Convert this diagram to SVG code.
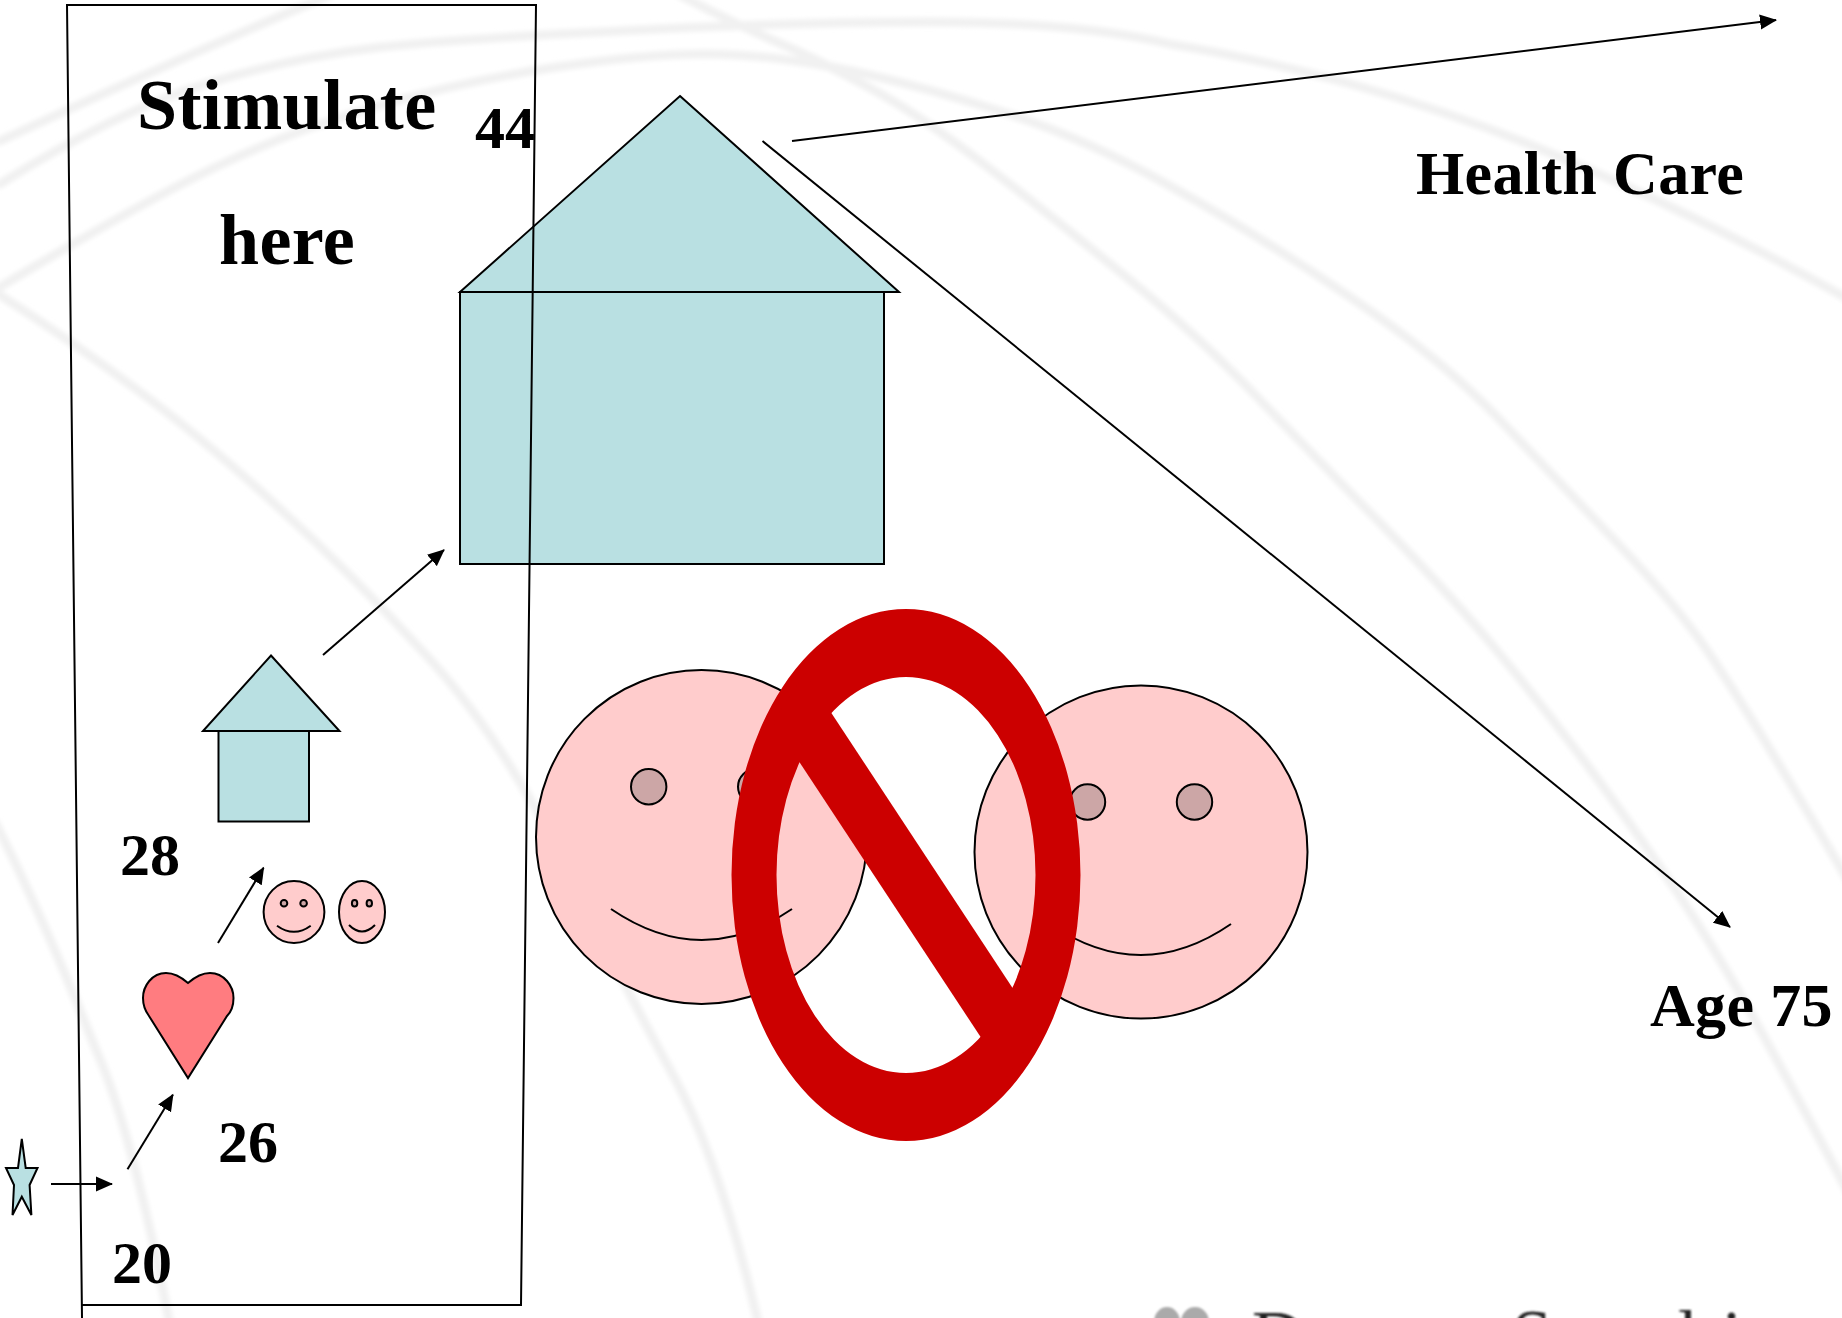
<svg xmlns="http://www.w3.org/2000/svg" width="1842" height="1318" viewBox="0 0 1842 1318">
<style>
.band{fill:none;stroke:#f1f1f1;stroke-width:9;stroke-linecap:round}
.o{stroke:#000;stroke-width:2}
.teal{fill:#b9e0e2}
.pink{fill:#ffcccc}
.eye{fill:#cca6a6}
.ln{fill:none;stroke:#000;stroke-width:2}
.arrow{fill:none;stroke:#000;stroke-width:2;marker-end:url(#ah)}
text{font-family:"Liberation Serif","Times New Roman",serif;font-weight:700;fill:#000}
.t72{font-size:72px;letter-spacing:.4px}.t62{font-size:62px;letter-spacing:.35px}.t58{font-size:60px}
.cut{font-size:72px;font-weight:400;fill:#222}
</style>
<defs>
<filter id="soft" x="-5%" y="-5%" width="110%" height="110%"><feGaussianBlur stdDeviation="2.200"/></filter>
<filter id="softer" x="-20%" y="-20%" width="140%" height="140%"><feGaussianBlur stdDeviation="1"/></filter>
<marker id="ah" markerUnits="userSpaceOnUse" markerWidth="18" markerHeight="16" refX="16" refY="8" orient="auto"><path d="M0 0.500L17 8L0 15.500z" fill="#000"/></marker>
</defs>
<rect width="1842" height="1318" fill="#fff"/>
<g id="background" filter="url(#soft)">
<path class="band" d="M0 141Q170 62 330 -5"/>
<path class="band" d="M0 184Q117 111 205 84Q293 57 381 47Q469 38 601 32Q780 22 930 22Q1080 22 1170 44Q1261 59 1351 84Q1441 109 1531 145Q1690 210 1850 300"/>
<path class="band" d="M0 287Q147 199 220 165Q293 130 381 105Q469 80 557 67Q645 54 704 54Q763 54 832 67Q900 80 990 108Q1080 135 1170 186Q1260 236 1350 297Q1441 358 1501 421Q1561 484 1621 547Q1681 610 1715 662Q1749 714 1783 771Q1818 829 1850 884"/>
<path class="band" d="M0 295Q76 344 140 392Q205 440 278 507Q352 574 426 655Q500 735 563 860Q626 990 673 1075Q720 1160 760 1330"/>
<path class="band" d="M680 -5Q733 23 777 42Q821 61 870 88Q920 115 985 165Q1050 215 1125 276Q1200 337 1260 400Q1321 463 1388 531Q1455 600 1498 652Q1542 705 1585 762Q1628 820 1662 870Q1697 920 1732 980Q1767 1040 1850 1196"/>
<path class="band" d="M-5 822Q46 923 96 1050Q132 1130 170 1325"/>
</g>
<g id="cut-off-line" filter="url(#softer)">
<ellipse cx="1167" cy="1322" rx="13" ry="15" fill="#aaa"/>
<ellipse cx="1195" cy="1322" rx="14" ry="15" fill="#aaa"/>
<text class="cut" x="1252" y="1360">D</text>
<text class="cut" x="1512" y="1359">S</text>
<text class="cut" x="1678" y="1360">l</text>
<text class="cut" x="1722" y="1360">i</text>
</g>
<g id="node-house-large">
<rect class="teal o" x="460" y="292" width="424" height="272"/>
<path class="teal o" d="M680 96L899 292H460z"/>
</g>
<g id="node-house-small">
<rect class="teal o" x="218.500" y="731" width="90.500" height="90.500"/>
<path class="teal o" d="M271 655.500L339.500 731H203z"/>
</g>
<g id="node-star">
<path class="teal o" d="M21.800 1139L25.700 1168H37.500L29.600 1185L31.400 1215L21.800 1196.700L12.500 1215L14 1185L6 1168H18z"/>
</g>
<g id="node-heart">
<path d="M188 983C180 976 174 973 166 973C152 973 143 986 143 998C143 1006 146 1012 149 1016L188 1078L227 1016C231 1012 233.500 1006 233.500 998C233.500 986 224 973 210 973C202 973 196 976 188 983Z" fill="#ff7c80" class="o"/>
</g>
<g id="node-small-face-1">
<ellipse class="pink o" cx="294" cy="912" rx="30.400" ry="31"/>
<circle class="eye o" cx="284" cy="903.300" r="3.300"/>
<circle class="eye o" cx="303.600" cy="903.300" r="3.300"/>
<path class="ln" d="M277 925.700Q294 938 310.700 925.700"/>
</g>
<g id="node-small-face-2">
<ellipse class="pink o" cx="362" cy="912" rx="23" ry="31"/>
<ellipse class="eye o" cx="354.600" cy="903.300" rx="2.700" ry="3.300"/>
<ellipse class="eye o" cx="369.300" cy="903.300" rx="2.700" ry="3.300"/>
<path class="ln" d="M349 925Q362 938 375 925"/>
</g>
<g id="node-face-left">
<ellipse class="pink o" cx="701.500" cy="837" rx="165.500" ry="167"/>
<circle class="eye o" cx="648.700" cy="786.700" r="17.700"/>
<circle class="eye o" cx="755.700" cy="786.700" r="17.700"/>
<path class="ln" d="M611 909Q702 971 792 909"/>
</g>
<g id="node-face-right">
<ellipse class="pink o" cx="1141" cy="852" rx="166.500" ry="166.500"/>
<circle class="eye o" cx="1087.500" cy="802" r="17.700"/>
<circle class="eye o" cx="1194.500" cy="802" r="17.700"/>
<path class="ln" d="M1050 924Q1141 986 1231 924"/>
</g>
<g id="node-prohibition" fill="#cc0000">
<path fill-rule="evenodd" d="M731.500 875a174.500 266 0 1 0 349 0a174.500 266 0 1 0 -349 0zM776.500 875a129.500 198 0 1 0 259 0a129.500 198 0 1 0 -259 0z"/>
<path d="M805 673L1039 1028L1007 1077L773 722z"/>
</g>
<g id="connectors">
<path class="arrow" d="M51 1184H112"/>
<path class="arrow" d="M127.500 1169.300L172.900 1094.700"/>
<path class="arrow" d="M218 943L263.600 867.700"/>
<path class="arrow" d="M323 655L444 550"/>
<path class="arrow" d="M792 141L1776 20"/>
<path class="arrow" d="M762.500 141L1730 927"/>
</g>
<g id="node-stimulate-zone">
<path class="ln" d="M82 1318L67 5H536L521 1305H82"/>
</g>
<g id="labels">
<text class="t72" x="137" y="129">Stimulate</text>
<text class="t72" x="219" y="264">here</text>
<text class="t58" x="475" y="148">44</text>
<text class="t62" x="1416" y="194">Health Care</text>
<text class="t62" x="1650" y="1026">Age 75</text>
<text class="t58" x="120" y="875">28</text>
<text class="t58" x="218" y="1162">26</text>
<text class="t58" x="112" y="1283">20</text>
</g>
</svg>
